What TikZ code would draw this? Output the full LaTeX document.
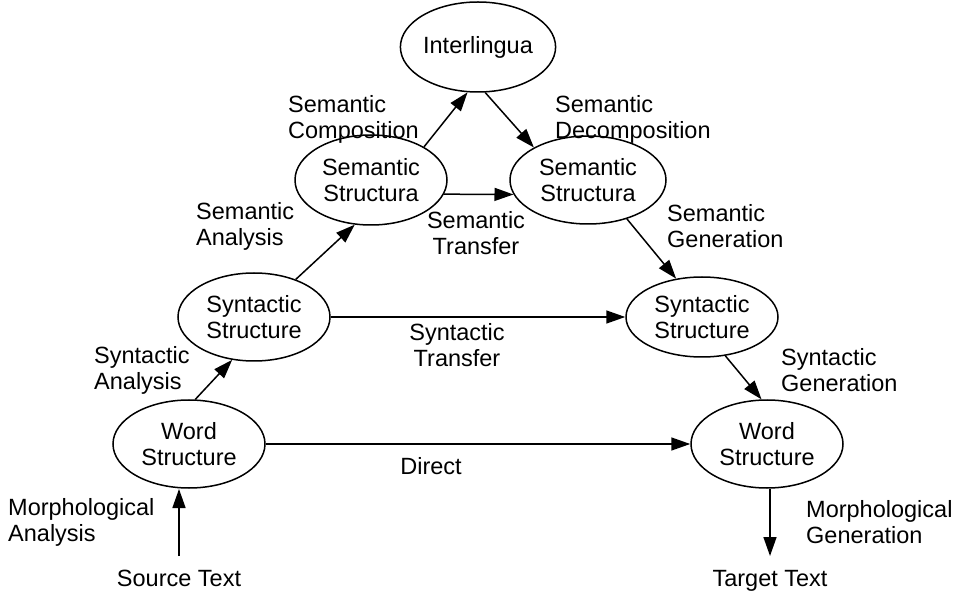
\documentclass[tikz,border=0pt]{standalone}
\usepackage{fontspec}
\setmainfont{Liberation Sans}
\usetikzlibrary{arrows.meta,shapes.geometric}
\begin{document}
\begin{tikzpicture}[x=1pt,y=-1pt,
  every node/.style={font=\fontsize{23.5}{26}\selectfont},
  ell/.style={draw, ellipse, line width=1.5pt, inner sep=0pt, minimum width=152pt, minimum height=88pt, align=center},
  lbl/.style={align=left, anchor=west, inner sep=0pt},
  ctr/.style={align=center, inner sep=0pt},
  arr/.style={line width=1.5pt, -{Triangle[length=19pt,width=13pt]}}]
\useasboundingbox (0,0) rectangle (961,593);
\node[ell, minimum width=150pt, minimum height=90pt] (il) at (478,47) {Interlingua};
\node[ell, minimum height=90pt] (ssl) at (371,180) {Semantic\\Structura};
\node[ell, minimum width=156pt, minimum height=88pt] (ssr) at (588,180) {Semantic\\Structura};
\node[ell] (sl) at (254,317) {Syntactic\\Structure};
\node[ell, minimum height=80pt] (syr) at (702,317) {Syntactic\\Structure};
\node[ell] (wl) at (189,444) {Word\\Structure};
\node[ell] (wr) at (767,444) {Word\\Structure};
\node[ctr, anchor=base] (src) at (179,586) {Source Text};
\node[ctr, anchor=base] (tgt) at (770,586) {Target Text};
\node[lbl] (l1) at (288,119) {Semantic\\Composition};
\node[lbl] (l2) at (555,119) {Semantic\\Decomposition};
\node[lbl] (l3) at (196,226) {Semantic\\Analysis};
\node[ctr] (l4) at (476,233) {Semantic\\Transfer};
\node[lbl] (l5) at (667,226) {Semantic\\Generation};
\node[ctr] (l6) at (457,345) {Syntactic\\Transfer};
\node[lbl] (l7) at (94,370) {Syntactic\\Analysis};
\node[lbl] (l8) at (781,370) {Syntactic\\Generation};
\node[ctr] (l9) at (431,466) {Direct};
\node[lbl] (l10) at (8,522) {Morphological\\Analysis};
\node[lbl] (l11) at (806,522) {Morphological\\Generation};
\coordinate (srctop) at (179,556);
\coordinate (wlbot) at (179,489);
\coordinate (wrbot) at (770,489);
\coordinate (tgttop) at (770,556);
\draw[arr] (srctop) -- (wlbot);
\draw[arr] (wrbot) -- (tgttop);
\draw[arr] (wl.82) -- (sl.243);
\draw[arr] (sl.42) -- (ssl.250);
\draw[arr] (ssl.32) -- (il.257);
\draw[arr] (il.279) -- (ssr.149);
\draw[arr] (ssl.-11) -- (ssr.191);
\draw[arr] (ssr.315) -- (syr.124);
\draw[arr] (sl.east) -- (syr.west);
\draw[arr] (syr.301) -- (wr.97);
\draw[arr] (wl.east) -- (wr.west);
\end{tikzpicture}
\end{document}
